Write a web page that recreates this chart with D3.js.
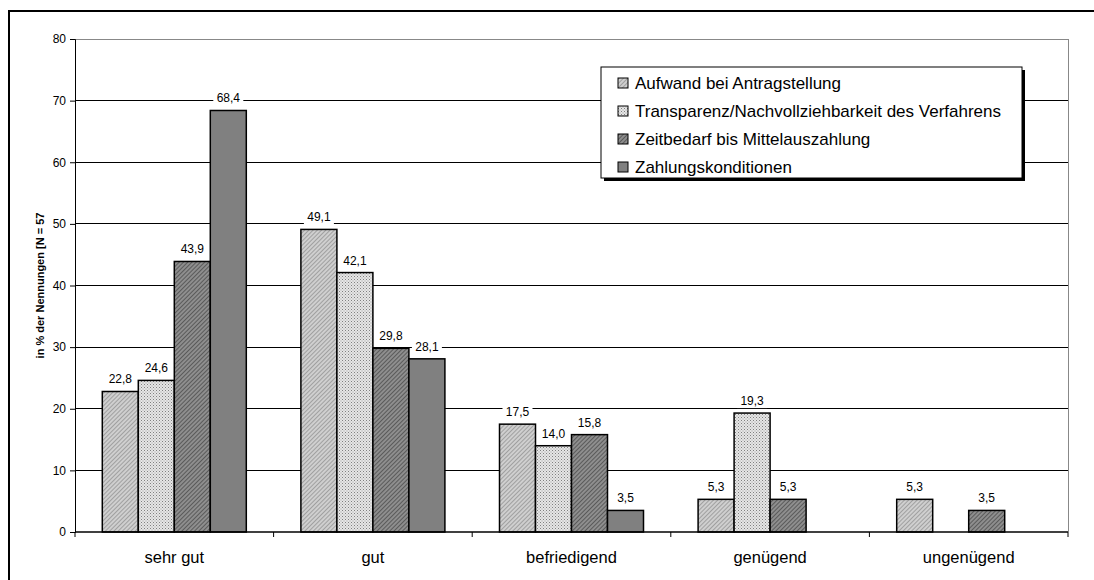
<!DOCTYPE html>
<html>
<head>
<meta charset="utf-8">
<script src="https://cdn.jsdelivr.net/npm/d3@7"></script>
<style>
  body { margin: 0; background: #fff; }
  text { font-family: "Liberation Sans", Arial, sans-serif; }
</style>
</head>
<body>
<div id="chart"></div>
<script>
const categories = ["sehr gut", "gut", "befriedigend", "genügend", "ungenügend"];
const seriesNames = [
  "Aufwand bei Antragstellung",
  "Transparenz/Nachvollziehbarkeit des Verfahrens",
  "Zeitbedarf bis Mittelauszahlung",
  "Zahlungskonditionen"
];
const aufwand      = [22.8, 49.1, 17.5, 5.3, 5.3];
const transparenz  = [24.6, 42.1, 14.0, 19.3, null];
const zeitbedarf   = [43.9, 29.8, 15.8, 5.3, 3.5];
const zahlung      = [68.4, 28.1, 3.5, null, null];
const yTicks = [0, 10, 20, 30, 40, 50, 60, 70, 80];
const yTitle = "in % der Nennungen [N = 57";

(() => {
  const width = 1094, height = 580;
  const margin = { top: 39, right: 26, bottom: 48, left: 75 };
  const innerW = 1068 - margin.left, innerH = 532 - margin.top;

  const seriesValues = [aufwand, transparenz, zeitbedarf, zahlung];
  const fills = ["url(#p1)", "url(#p2)", "url(#p3)", "#808080"];

  const svg = d3.select("#chart").append("svg")
    .attr("width", width).attr("height", height);

  // patterns
  const defs = svg.append("defs");
  const p1 = defs.append("pattern").attr("id", "p1").attr("patternUnits", "userSpaceOnUse")
    .attr("width", 3).attr("height", 3).attr("patternTransform", "rotate(45)");
  p1.append("rect").attr("width", 3).attr("height", 3).attr("fill", "#cfcfcf");
  p1.append("rect").attr("width", 1).attr("height", 3).attr("fill", "#a0a0a0");

  const p2 = defs.append("pattern").attr("id", "p2").attr("patternUnits", "userSpaceOnUse")
    .attr("width", 3).attr("height", 3);
  p2.append("rect").attr("width", 3).attr("height", 3).attr("fill", "#e6e6e6");
  p2.append("rect").attr("x", 0).attr("y", 0).attr("width", 1).attr("height", 1).attr("fill", "#808080");
  p2.append("rect").attr("x", 1.5).attr("y", 1.5).attr("width", 1).attr("height", 1).attr("fill", "#a0a0a0");

  const p3 = defs.append("pattern").attr("id", "p3").attr("patternUnits", "userSpaceOnUse")
    .attr("width", 3).attr("height", 3).attr("patternTransform", "rotate(45)");
  p3.append("rect").attr("width", 3).attr("height", 3).attr("fill", "#8e8e8e");
  p3.append("rect").attr("width", 1).attr("height", 3).attr("fill", "#5a5a5a");

  // outer frame (cropped at right and bottom)
  svg.append("rect")
    .attr("x", 9).attr("y", 11).attr("width", 1100).attr("height", 600)
    .attr("fill", "none").attr("stroke", "#000").attr("stroke-width", 2);

  const x0 = d3.scaleBand().domain(categories).range([0, innerW]).paddingInner(0).paddingOuter(0);
  const groupW = 144;
  const x1 = d3.scaleBand().domain(d3.range(4)).range([0, groupW]);
  const y = d3.scaleLinear().domain([0, 80]).range([innerH, 0]);

  const g = svg.append("g").attr("transform", `translate(${margin.left},${margin.top})`);

  // gridlines
  g.selectAll(".grid").data(yTicks.filter(t => t > 0)).enter().append("line")
    .attr("x1", 0).attr("x2", innerW)
    .attr("y1", d => y(d)).attr("y2", d => y(d))
    .attr("stroke", d => d === 80 ? "#888" : "#000").attr("stroke-width", 1)
    .attr("shape-rendering", "crispEdges");
  // right border of plot area
  g.append("line").attr("x1", innerW).attr("x2", innerW).attr("y1", 0).attr("y2", innerH)
    .attr("stroke", "#888").attr("shape-rendering", "crispEdges");

  // bars
  const pad = (x0.bandwidth() - groupW) / 2;
  const barData = [];
  categories.forEach((c, ci) => {
    seriesValues.forEach((s, si) => {
      if (s[ci] != null) barData.push({ cat: c, si, v: s[ci] });
    });
  });

  const bx = d => x0(d.cat) + pad + x1(d.si);

  g.selectAll(".bar").data(barData).enter().append("rect")
    .attr("class", "bar")
    .attr("x", bx)
    .attr("y", d => y(d.v))
    .attr("width", x1.bandwidth())
    .attr("height", d => innerH - y(d.v))
    .attr("fill", d => fills[d.si])
    .attr("stroke", "#000").attr("stroke-width", 1.5);

  // value labels with white background
  const fmt = v => v.toFixed(1).replace(".", ",");
  const lab = g.selectAll(".lab").data(barData).enter().append("g")
    .attr("transform", d => `translate(${bx(d) + x1.bandwidth() / 2},${y(d.v) - 8})`);
  lab.append("rect").attr("x", -15).attr("y", -11).attr("width", 30).attr("height", 14).attr("fill", "#fff");
  lab.append("text").attr("text-anchor", "middle").attr("font-size", 12).attr("fill", "#000").text(d => fmt(d.v));

  // y axis
  const yAxis = g.append("g")
    .call(d3.axisLeft(y).tickValues(yTicks).tickSize(5).tickFormat(d => d));
  yAxis.select(".domain").attr("stroke", "#000");
  yAxis.selectAll("text").attr("font-size", 12).attr("dx", -1).style("font-family", "Liberation Sans, Arial, sans-serif");

  // x axis
  const xg = g.append("g").attr("transform", `translate(0,${innerH})`);
  xg.append("line").attr("x1", 0).attr("x2", innerW).attr("stroke", "#000").attr("stroke-width", 1.5);
  xg.selectAll(".tk").data(d3.range(categories.length + 1)).enter().append("line")
    .attr("x1", i => i * x0.bandwidth()).attr("x2", i => i * x0.bandwidth())
    .attr("y1", 0).attr("y2", 5).attr("stroke", "#000");
  xg.selectAll(".cl").data(categories).enter().append("text")
    .attr("x", d => x0(d) + x0.bandwidth() / 2).attr("y", 31)
    .attr("text-anchor", "middle").attr("font-size", 16.5).text(d => d);

  // y title
  svg.append("text")
    .attr("transform", `translate(44,${margin.top + innerH / 2}) rotate(-90)`)
    .attr("text-anchor", "middle").attr("font-size", 11).attr("font-weight", "bold")
    .text(yTitle);

  // legend
  const lx = 601, ly = 67, lw = 421, lh = 111;
  svg.append("rect").attr("x", lx + 3).attr("y", ly + 3).attr("width", lw).attr("height", lh).attr("fill", "#000");
  svg.append("rect").attr("x", lx).attr("y", ly).attr("width", lw).attr("height", lh)
    .attr("fill", "#fff").attr("stroke", "#000").attr("stroke-width", 1);
  const li = svg.selectAll(".li").data(seriesNames).enter().append("g")
    .attr("transform", (d, i) => `translate(${lx + 17},${ly + 16 + i * 28})`);
  li.append("rect").attr("x", 0).attr("y", -5).attr("width", 10).attr("height", 10)
    .attr("fill", (d, i) => fills[i]).attr("stroke", "#000").attr("stroke-width", 1);
  li.append("text").attr("x", 17).attr("y", 6).attr("font-size", 17).text(d => d);
})();
</script>
</body>
</html>
